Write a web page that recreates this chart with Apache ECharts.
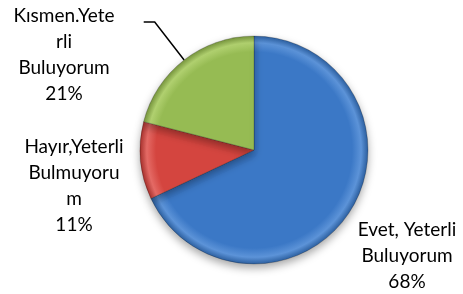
<!DOCTYPE html>
<html>
<head>
<meta charset="utf-8">
<script src="https://cdn.jsdelivr.net/npm/echarts@6/dist/echarts.min.js"></script>
<style>
  html, body { margin: 0; padding: 0; background: #fff; }
  #main { width: 463px; height: 294px; }
</style>
</head>
<body>
<div id="main"></div>
<script>
// dilimler (Excel'deki satır kırılmaları korunuyor)
var categories = ['Evet, Yeterli\nBuluyorum', 'Hayır,Yeterli\nBulmuyoru\nm', 'Kısmen.Yete\nrli\nBuluyorum'];
var values = [68, 11, 21];
// [ana renk, kenar açık, kenar koyu]
var colors = [['#3b78c6', '#5c93d8', '#2c5f9f'], ['#d4453f', '#e46a65', '#a8322e'], ['#96bb53', '#b0d06f', '#76943d']];

// etiket merkezleri
var labelPos = [[407, 256], [74, 186], [64, 55]];
var CX = 254, CY = 150, R = 114;

var chart = echarts.init(document.getElementById('main'));

// Excel'deki kabartma görünümü için kenara doğru açılan radyal gradyan
function bevel(c) {
  return {
    type: 'radial', x: CX, y: CY, r: R, global: true,
    colorStops: [
      { offset: 0, color: c[0] },
      { offset: 0.86, color: c[0] },
      { offset: 0.94, color: c[1] },
      { offset: 1, color: c[2] }
    ]
  };
}

var option = {
  animation: false,
  series: [{
    type: 'pie',
    center: [CX, CY],
    radius: R,
    startAngle: 90,
    clockwise: true,
    data: categories.map(function (name, i) {
      return {
        name: name,
        value: values[i],
        itemStyle: { color: bevel(colors[i]) },
        labelLine: { show: i === 2 }
      };
    }),
    itemStyle: {
      borderColor: 'rgba(0,0,0,0.2)',
      borderWidth: 1,
      shadowBlur: 8,
      shadowOffsetY: 4,
      shadowColor: 'rgba(0,0,0,0.35)'
    },
    label: {
      show: true,
      position: 'outside',
      formatter: '{b}\n{d}%',
      fontFamily: 'Lato',
      fontSize: 19,
      lineHeight: 26,
      color: '#000',
      align: 'center',
      overflow: 'none'
    },
    labelLine: {
      lineStyle: { color: '#000', width: 1.5 }
    },
    labelLayout: function (params) {
      var i = params.dataIndex;
      var p = labelPos[i];
      var out = { x: p[0], y: p[1], align: 'center', verticalAlign: 'middle' };
      // kılavuz çizgisi: dilim ortasından radyal 48px, sonra 11px yatay
      var lay = chart.getModel().getSeriesByIndex(0).getData().getItemLayout(i);
      var mid = (lay.startAngle + lay.endAngle) / 2;
      var cos = Math.cos(mid), sin = Math.sin(mid);
      var p0 = [lay.cx + lay.r * cos, lay.cy + lay.r * sin];
      var p1 = [lay.cx + (lay.r + 48) * cos, lay.cy + (lay.r + 48) * sin];
      var p2 = [p1[0] + (cos < 0 ? -11 : 11), p1[1]];
      out.labelLinePoints = [p0, p1, p2];
      return out;
    }
  }]
};

chart.setOption(option);
</script>
</body>
</html>
